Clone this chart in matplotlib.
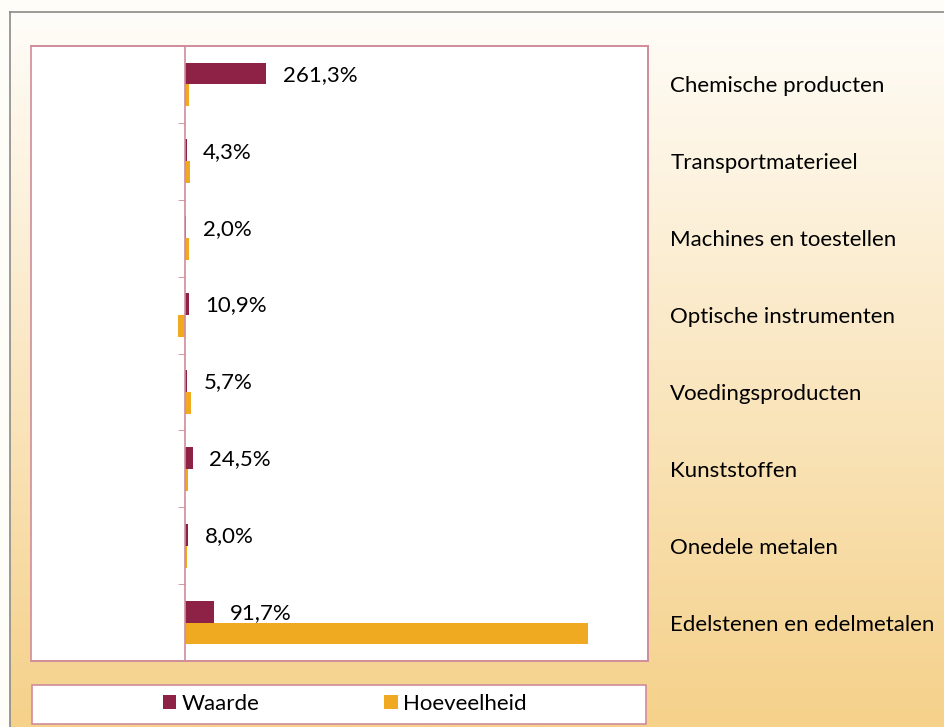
import matplotlib
matplotlib.use("Agg")
import matplotlib.pyplot as plt
import numpy as np
from matplotlib.patches import Rectangle

# categorieen van boven naar onder
categories = ["Chemische producten", "Transportmaterieel", "Machines en toestellen",
              "Optische instrumenten", "Voedingsproducten", "Kunststoffen",
              "Onedele metalen", "Edelstenen en edelmetalen"]
waarde = [261.3, 4.3, 2.0, 10.9, 5.7, 24.5, 8.0, 91.7]
hoeveelheid = [13, 17, 13, -22, 20, 9, 5, 1306]

plt.rcParams['font.family'] = ['Lato', 'DejaVu Sans']
FS = 16
C_WAARDE = "#8E2246"
C_HOEV = "#EFAA22"
C_EDGE = "#D08C9C"

W, H = 944, 727
fig = plt.figure(figsize=(W / 100, H / 100), dpi=100)
fig.patch.set_facecolor("#FFFDF8")


def fr(x0, y0, x1, y1):
    # pixel box -> figure fraction
    return [x0 / W, 1 - y1 / H, (x1 - x0) / W, (y1 - y0) / H]


# achtergrond met verloop
bg = fig.add_axes(fr(10, 12, 944, 727), zorder=-1)
top = np.array([255, 253, 249]) / 255
bot = np.array([245, 209, 138]) / 255
t = np.linspace(0, 1, 256)[:, None]
grad = top * (1 - t) + bot * t
bg.imshow(grad[:, None, :].repeat(2, axis=1), aspect="auto", extent=[0, 1, 0, 1])
bg.set_xticks([])
bg.set_yticks([])
for s in ["right", "bottom"]:
    bg.spines[s].set_visible(False)
for s in ["left", "top"]:
    bg.spines[s].set_color("#8a8a8a")
    bg.spines[s].set_linewidth(1.2)

ax = fig.add_axes(fr(31, 46, 648, 661))
ax.set_facecolor("white")
y = np.arange(len(categories))
h = 0.285
ax.barh(y - h / 2, waarde, height=h, color=C_WAARDE, label="Waarde")
ax.barh(y + h / 2, hoeveelheid, height=h, color=C_HOEV, label="Hoeveelheid")

for yi, v in zip(y, waarde):
    ax.annotate(f"{v:.1f}%".replace(".", ","), xy=(v, yi - h / 2), xytext=(12, -1),
                textcoords="offset points", va="center", ha="left", fontsize=FS)

ax.set_xlim(-500, 1500)
ax.set_ylim(len(categories) - 0.5, -0.5)
ax.set_xticks([])

ax.spines["left"].set_position(("data", 0))
for s in ax.spines.values():
    s.set_color(C_EDGE)
    s.set_linewidth(1.2)
ax.add_patch(Rectangle((0, 0), 1, 1, transform=ax.transAxes, fill=False,
                       edgecolor=C_EDGE, linewidth=1.2, clip_on=False))

ax.set_yticks(y)
ax.set_yticklabels(categories, fontsize=FS)
ax.set_yticks(np.arange(len(categories) + 1) - 0.5, minor=True)
ax.tick_params(axis="y", which="major", left=False, right=False,
               labelleft=False, labelright=True, length=0, pad=16)
ax.tick_params(axis="y", which="minor", left=True, right=False,
               direction="out", length=5, color=C_EDGE)

# legenda onderaan
fig.patches.append(Rectangle((32 / W, 1 - 724 / H), 614 / W, 39 / H,
                             transform=fig.transFigure, facecolor="white",
                             edgecolor=C_EDGE, linewidth=1.2))
handles, labels = ax.get_legend_handles_labels()
fig.legend(handles, labels, loc="center", bbox_to_anchor=(345 / W, 1 - 704 / H),
           ncol=2, frameon=False, fontsize=FS, columnspacing=5.6,
           handlelength=0.6, handleheight=0.6, handletextpad=0.25)

fig.savefig("out.png", dpi=100, facecolor=fig.get_facecolor())
